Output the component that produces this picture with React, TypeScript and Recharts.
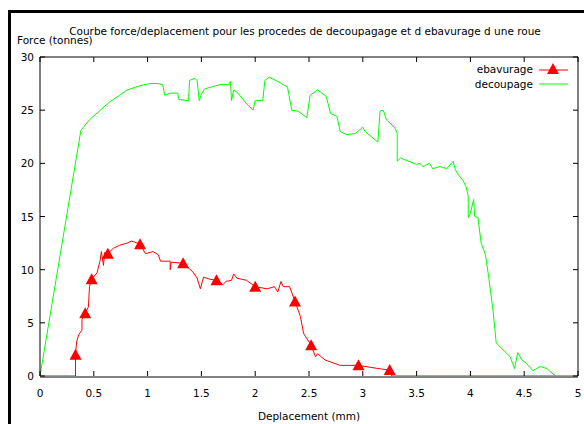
import React from 'react';
import { LineChart, Line, XAxis, YAxis } from 'recharts';

// découpage (green) curve
const decoupageX = [
  0, 0.38, 0.46, 0.56, 0.65, 0.74, 0.81, 0.93, 1.02, 1.1, 1.14, 1.16, 1.21, 1.28, 1.29, 1.38,
  1.39, 1.44, 1.46, 1.48, 1.5, 1.53, 1.6, 1.67, 1.75, 1.77, 1.78, 1.8, 1.84, 1.92, 1.98, 2.0,
  2.07, 2.09, 2.13, 2.23, 2.26, 2.3, 2.34, 2.4, 2.48, 2.51, 2.58, 2.66, 2.7, 2.76, 2.79, 2.85,
  2.93, 3.0, 3.02, 3.14, 3.16, 3.19, 3.22, 3.3, 3.32, 3.32, 3.35, 3.5, 3.53, 3.56, 3.62, 3.65,
  3.72, 3.78, 3.84, 3.86, 3.89, 3.93, 3.96, 3.98, 3.98, 4.0, 4.03, 4.04, 4.07, 4.1, 4.14, 4.17,
  4.21, 4.24, 4.29, 4.37, 4.41, 4.44, 4.48, 4.52, 4.58, 4.65, 4.71, 4.79,
];
const decoupageY = [
  0, 23.1, 24.1, 25.0, 25.8, 26.4, 26.9, 27.3, 27.5, 27.5, 27.4, 26.4, 26.6, 26.6, 26.0, 25.9,
  27.8, 28.0, 27.8, 25.9, 26.5, 27.0, 27.2, 27.4, 27.4, 27.7, 25.9, 26.9, 26.6, 25.6, 25.0, 25.9,
  25.9, 27.8, 28.1, 27.6, 27.4, 27.2, 25.0, 24.9, 24.3, 26.4, 26.9, 26.3, 24.7, 24.4, 23.0, 22.7,
  22.8, 23.4, 23.0, 22.0, 24.9, 25.0, 24.1, 23.3, 22.8, 20.2, 20.5, 19.9, 20.0, 19.7, 20.0, 19.5,
  19.7, 19.5, 20.2, 19.4, 18.9, 18.4, 17.8, 16.9, 14.9, 15.3, 16.6, 15.0, 14.9, 12.5, 11.4, 9.3,
  6.2, 3.1, 2.6, 1.8, 0.7, 2.2, 1.5, 1.2, 0.5, 0.9, 0.7, 0,
];

// ébavurage (red) curve
const ebavurageX = [
  0, 0.33, 0.33, 0.34, 0.36, 0.39, 0.39, 0.42, 0.45, 0.46, 0.48, 0.53, 0.56, 0.57, 0.59, 0.6,
  0.63, 0.68, 0.74, 0.81, 0.85, 0.93, 0.98, 1.05, 1.1, 1.12, 1.21, 1.21, 1.22, 1.33, 1.42, 1.46,
  1.49, 1.52, 1.58, 1.64, 1.7, 1.73, 1.78, 1.8, 1.83, 1.92, 2.0, 2.11, 2.18, 2.21, 2.24, 2.26,
  2.32, 2.37, 2.42, 2.45, 2.52, 2.56, 2.58, 2.65, 2.79, 2.96, 3.13, 3.25, 3.27, 5,
];
const ebavurageY = [
  0, 0, 2.0, 3.2, 3.9, 4.3, 5.3, 5.9, 6.5, 8.4, 9.1, 9.7, 10.9, 11.7, 10.4, 11.6,
  11.5, 12.0, 12.3, 12.5, 12.7, 12.4, 11.5, 11.7, 11.4, 10.8, 10.8, 10.0, 10.7, 10.6, 9.8, 9.2,
  8.2, 9.3, 9.1, 9.0, 8.6, 8.9, 9.0, 9.6, 9.2, 9.0, 8.4, 8.2, 8.4, 7.9, 8.9, 8.4,
  8.4, 7.0, 5.6, 4.0, 2.9, 1.8, 2.1, 1.5, 1.0, 1.0, 0.72, 0.56, 0, 0,
];
// points of the red curve that carry a triangle
const ebavurageMarkers = [2, 7, 10, 16, 21, 29, 35, 42, 49, 52, 57, 59];

const xTicks = [0, 0.5, 1, 1.5, 2, 2.5, 3, 3.5, 4, 4.5, 5];
const yTicks = [0, 5, 10, 15, 20, 25, 30];

const decoupageData = decoupageX.map((x, i) => ({ x, y: decoupageY[i] }));
const ebavurageData = ebavurageX.map((x, i) => ({ x, y: ebavurageY[i] }));
const markerSet = new Set(ebavurageMarkers);

const FONT = '"DejaVu Sans", sans-serif';
const FS = 10.5;

const triangle = (cx: number, cy: number) =>
  `M${cx},${cy - 6} L${cx + 6},${cy + 5} L${cx - 6},${cy + 5} Z`;

const BottomTick = (props: any) => {
  const { x, y, payload } = props;
  return (
    <g>
      <line x1={x} y1={y} x2={x} y2={y - 5} stroke="#000" />
      <text x={x} y={y + 21} textAnchor="middle" fontSize={FS} fontFamily={FONT} fill="#000">
        {payload.value}
      </text>
    </g>
  );
};

const TopTick = (props: any) => {
  const { x, y } = props;
  return <line x1={x} y1={y} x2={x} y2={y + 5} stroke="#000" />;
};

const LeftTick = (props: any) => {
  const { x, y, payload } = props;
  return (
    <g>
      <line x1={x} y1={y} x2={x + 5} y2={y} stroke="#000" />
      <text x={x - 6} y={y + 4} textAnchor="end" fontSize={FS} fontFamily={FONT} fill="#000">
        {payload.value}
      </text>
    </g>
  );
};

const RightTick = (props: any) => {
  const { x, y } = props;
  return <line x1={x} y1={y} x2={x - 5} y2={y} stroke="#000" />;
};

const MarkerDot = (props: any) => {
  const { cx, cy, index } = props;
  if (!markerSet.has(index)) return <g key={`m${index}`} />;
  return <path key={`m${index}`} d={triangle(cx, cy)} fill="#ff0000" />;
};

export default function App() {
  return (
    <div style={{ position: 'absolute', left: 0, top: 0, width: 584, height: 424, background: '#fff' }}>
      <div style={{ position: 'absolute', left: 0, top: 0 }}>
        <LineChart width={584} height={424} margin={{ top: 56, right: 5, bottom: 47, left: 39 }}>
          <XAxis
            xAxisId="b"
            type="number"
            dataKey="x"
            domain={[0, 5]}
            ticks={xTicks}
            interval={0}
            height={1}
            tickSize={0}
            tickMargin={0}
            tickLine={false}
            axisLine={{ stroke: '#000', transform: 'translate(0,1)' }}
            tick={BottomTick}
            allowDataOverflow
          />
          <XAxis
            xAxisId="t"
            orientation="top"
            type="number"
            dataKey="x"
            domain={[0, 5]}
            ticks={xTicks}
            interval={0}
            height={1}
            tickSize={0}
            tickMargin={0}
            tickLine={false}
            axisLine={{ stroke: '#000' }}
            tick={TopTick}
            allowDataOverflow
          />
          <YAxis
            yAxisId="l"
            type="number"
            domain={[0, 30]}
            ticks={yTicks}
            interval={0}
            width={1}
            tickSize={0}
            tickMargin={0}
            tickLine={false}
            axisLine={{ stroke: '#000' }}
            tick={LeftTick}
            allowDataOverflow
          />
          <YAxis
            yAxisId="r"
            orientation="right"
            type="number"
            domain={[0, 30]}
            ticks={yTicks}
            interval={0}
            width={1}
            tickSize={0}
            tickMargin={0}
            tickLine={false}
            axisLine={{ stroke: '#000' }}
            tick={RightTick}
            allowDataOverflow
          />
          <Line
            xAxisId="b"
            yAxisId="l"
            data={decoupageData}
            dataKey="y"
            type="linear"
            stroke="#00ff00"
            strokeWidth={1}
            dot={false}
            activeDot={false}
            isAnimationActive={false}
          />
          <Line
            xAxisId="b"
            yAxisId="l"
            data={ebavurageData}
            dataKey="y"
            type="linear"
            stroke="#ff0000"
            strokeWidth={1}
            dot={MarkerDot}
            activeDot={false}
            isAnimationActive={false}
          />
        </LineChart>
      </div>
      <svg
        width={584}
        height={424}
        style={{ position: 'absolute', left: 0, top: 0, pointerEvents: 'none' }}
        fontFamily={FONT}
        fontSize={FS}
      >
        <rect x={8} y={10} width={576} height={3} fill="#000" />
        <rect x={8} y={10} width={3} height={414} fill="#000" />
        <text x={305} y={35} textAnchor="middle">
          Courbe force/deplacement pour les procedes de decoupagage et d ebavurage d une roue
        </text>
        <text x={17} y={44}>Force (tonnes)</text>
        <text x={309} y={420} textAnchor="middle">Deplacement (mm)</text>
        <text x={533} y={73} textAnchor="end">ebavurage</text>
        <line x1={539} y1={70} x2={568} y2={70} stroke="#ff0000" />
        <path d={triangle(553, 69)} fill="#ff0000" />
        <text x={533} y={88} textAnchor="end">decoupage</text>
        <line x1={539} y1={84} x2={568} y2={84} stroke="#00ff00" />
      </svg>
    </div>
  );
}
